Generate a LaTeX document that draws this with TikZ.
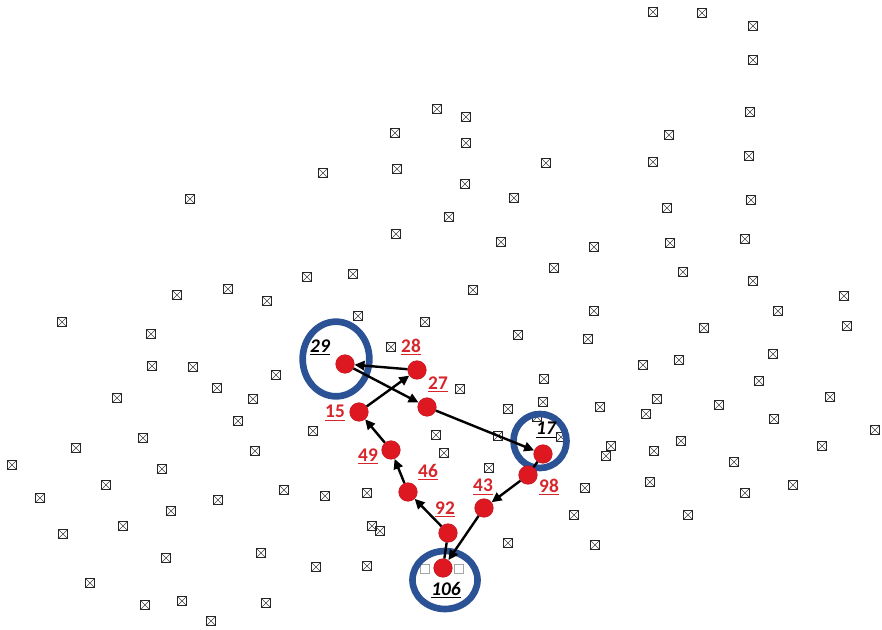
\documentclass[tikz,border=0pt]{standalone}
\usepackage{fontspec}
\setmainfont{Carlito}
\usetikzlibrary{arrows.meta,shapes.geometric}
\definecolor{dotred}{RGB}{222,24,32}
\definecolor{txtred}{RGB}{214,38,44}
\definecolor{ringblue}{RGB}{44,82,150}
\tikzset{
  mk/.style={rectangle, draw=black!85, line width=0.9pt, minimum size=6.6pt, inner sep=0pt,
    path picture={\draw[line width=0.4pt, black!75]
      (path picture bounding box.south west) -- (path picture bounding box.north east)
      (path picture bounding box.north west) -- (path picture bounding box.south east);}},
  emk/.style={rectangle, draw=black!35, line width=0.5pt, minimum size=6.6pt, inner sep=0pt},
  dot/.style={circle, fill=dotred, draw=dotred!85!black, line width=0.3pt, minimum size=14pt, inner sep=0pt},
  ring/.style={ellipse, draw=ringblue, line width=5pt, inner sep=0pt},
  rlbl/.style={text=txtred, font=\fontsize{14.5}{16}\selectfont\bfseries, inner sep=1pt},
  klbl/.style={text=black, font=\fontsize{14.5}{16}\selectfont\bfseries\itshape, inner sep=1pt},
  arr/.style={-{Triangle[length=7.5pt,width=7pt]}, line width=1.8pt, black},
  seg/.style={line width=1.8pt, black}
}
\begin{document}
\begin{tikzpicture}[x=0.75pt,y=-0.75pt]
\useasboundingbox (0,0) rectangle (882,629);
% background markers
\foreach \px/\py [count=\i] in {
190/199, 437/109, 395/133, 397/169, 323/173,
653/12, 466/117, 466/143, 546/163, 653/162, 465/184, 514/198,
702/13, 753/26, 753/60, 750/112, 669/135, 749/156, 751/200, 667/208,
177/295, 62/322, 151/334, 152/366, 193/367, 217/388, 117/398, 228/289,
396/234, 307/277, 353/274, 267/301, 358/316, 425/322, 391/347, 276/375, 253/399, 238/421,
449/217, 501/242, 594/247, 554/268, 473/290, 594/311, 518/335, 588/339, 643/365, 544/379,
460/389, 508/409, 543/402, 600/407, 657/399, 646/414,
670/243, 745/239, 683/272, 753/281, 844/296, 778/311, 847/326, 704/328, 773/354, 679/360,
759/381, 830/397, 719/405, 774/419,
143/438, 76/448, 12/465, 162/469, 106/485, 40/498, 218/500, 171/511, 123/526, 63/534,
166/558, 90/583, 182/601, 145/605, 211/621,
313/431, 255/451, 436/435, 284/490, 325/496, 367/493, 372/526, 380/531, 261/553, 316/567,
367/566, 266/603,
537/417, 498/436, 561/437, 611/446, 606/456, 654/451, 650/482, 444/453, 489/468, 585/488,
574/515, 508/543, 595/545,
875/430, 681/441, 822/446, 734/462, 793/485, 745/493, 688/515}
  \node[mk] (m\i) at (\px,\py) {};
\node[emk] (e1) at (425,569) {};
\node[emk] (e2) at (459,569) {};
% blue rings
\node[ring, minimum width=50pt, minimum height=56pt] (c29) at (336,359) {};
\node[ring, minimum width=39.75pt, minimum height=40.5pt] (c17) at (540,441) {};
\node[ring, minimum width=48.75pt, minimum height=43.5pt] (c106) at (445,580) {};
% red dots
\node[dot] (n29) at (345,364) {};
\node[dot] (n28) at (417,370) {};
\node[dot] (n27) at (427,407) {};
\node[dot] (n15) at (359,412) {};
\node[dot] (n49) at (391,450) {};
\node[dot] (n46) at (408,492) {};
\node[dot] (n92) at (448,533) {};
\node[dot] (n43) at (484,508) {};
\node[dot] (n98) at (528,475) {};
\node[dot] (n17) at (543,454) {};
\node[dot] (n106) at (443,568) {};
% labels
\node[klbl] (t29) at (320,347) {\underline{29}};
\node[rlbl] (t28) at (411,347) {\underline{28}};
\node[rlbl] (t27) at (438,384) {\underline{27}};
\node[rlbl] (t15) at (335,413) {\underline{15}};
\node[rlbl] (t49) at (368,456) {\underline{49}};
\node[rlbl] (t46) at (428,472) {\underline{46}};
\node[rlbl] (t92) at (445,509) {\underline{92}};
\node[rlbl] (t43) at (483,487) {\underline{43}};
\node[rlbl] (t98) at (549,487) {\underline{98}};
\node[klbl] (t17) at (546,430) {\underline{17}};
\node[klbl] (t106) at (446,590) {\underline{106}};
% connectors
\draw[seg] (n106) -- (n92);
\draw[arr] (n92) -- (n46);
\draw[arr] (n46) -- (n49);
\draw[arr] (n49) -- (n15);
\draw[arr] (n15) -- (n28);
\draw[arr] (n28) -- (n29);
\draw[arr] (n29) -- (n27);
\draw[arr] (n27) -- (n17);
\draw[seg] (n17) -- (n98);
\draw[arr] (n98) -- (n43);
\draw[arr] (n43) -- (n106);
\end{tikzpicture}
\end{document}
